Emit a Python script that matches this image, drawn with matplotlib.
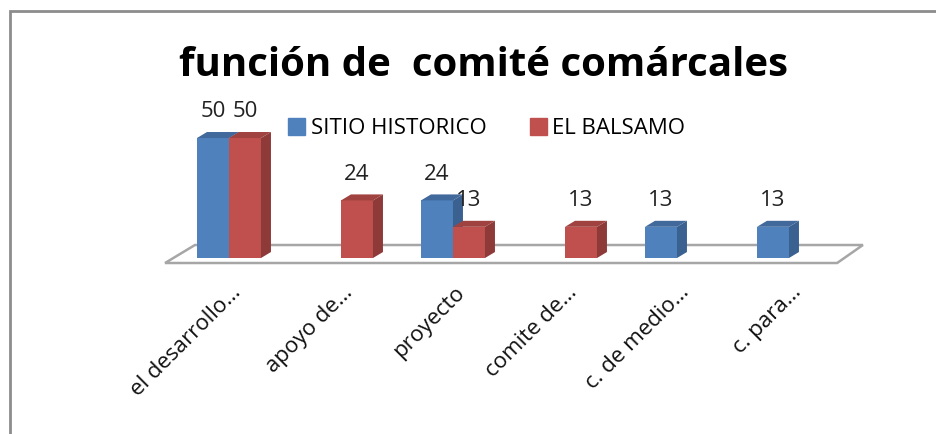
import matplotlib
matplotlib.use("Agg")
import matplotlib.pyplot as plt
from matplotlib.patches import Polygon, Rectangle
import numpy as np

# datos
categorias = ["el desarrollo…", "apoyo de…", "proyecto", "comite de…", "c. de medio…", "c. para…"]
series = ["SITIO HISTORICO", "EL BALSAMO"]
sitio = [50, 0, 24, 0, 13, 13]
balsamo = [50, 24, 13, 13, 0, 0]
titulo = "función de  comité comárcales"

colores = {
    "SITIO HISTORICO": ("#4F81BD", "#3A6190", "#41699C"),
    "EL BALSAMO": ("#C0504D", "#8E3A38", "#A04340"),
}

plt.rcParams["font.family"] = ["Open Sans", "DejaVu Sans"]

fig = plt.figure(figsize=(9.36, 4.34), dpi=100)
ax = fig.add_axes([0.1609, 0.3502, 0.7658, 0.3871])
ax.set_xlim(-0.7, 5.7)
ax.set_ylim(-10, 60)
ax.axis("off")

ancho = 0.2857
dx, dy = 0.089, 2.5  # profundidad 3D

# suelo
suelo = Polygon([(-0.571, -2.08), (5.43, -2.08), (5.66, 5.42), (-0.304, 5.42)],
                closed=True, facecolor="white", edgecolor="#A6A6A6", lw=1.8, zorder=1)
ax.add_patch(suelo)

x = np.arange(len(categorias))
for i in x:
    for nombre, vals, off in [("SITIO HISTORICO", sitio, -ancho), ("EL BALSAMO", balsamo, 0)]:
        v = vals[i]
        if v == 0:
            continue
        frente, lado, arriba = colores[nombre]
        x0 = i + off
        x1 = x0 + ancho
        ax.bar(x0, v, width=ancho, align="edge", color=frente, zorder=2)
        ax.add_patch(Polygon([(x1, 0), (x1 + dx, dy), (x1 + dx, v + dy), (x1, v)],
                             facecolor=lado, edgecolor="none", zorder=2))
        ax.add_patch(Polygon([(x0, v), (x1, v), (x1 + dx, v + dy), (x0 + dx, v + dy)],
                             facecolor=arriba, edgecolor="none", zorder=2))
        ax.text(x0 + ancho / 2, v + 11, str(v), ha="center", va="center",
                fontsize=16, color="#222222", zorder=3)

# etiquetas de categorias
for i, c in enumerate(categorias):
    ax.text(i + 0.08, -13, c, rotation=45, ha="right", va="center",
            rotation_mode="anchor", fontsize=16, color="#111111")

# leyenda
handles = [Rectangle((0, 0), 1, 1, color=colores[s][0]) for s in series]
fig.legend(handles, series, loc="center", bbox_to_anchor=(0.520, 0.703), ncol=2,
           frameon=False, fontsize=16, handlelength=0.77, handleheight=0.77,
           handletextpad=0.25, columnspacing=1.95)

fig.text(0.517, 0.85, titulo, ha="center", va="center", fontsize=29,
         fontweight="bold", color="black")

# borde
fig.add_artist(Rectangle((9.5 / 936, -0.1), 1.2, 1 - 11 / 434 + 0.1,
                         transform=fig.transFigure, fill=False,
                         edgecolor="#8C8C8C", lw=2))

fig.savefig("out.png", dpi=100)
